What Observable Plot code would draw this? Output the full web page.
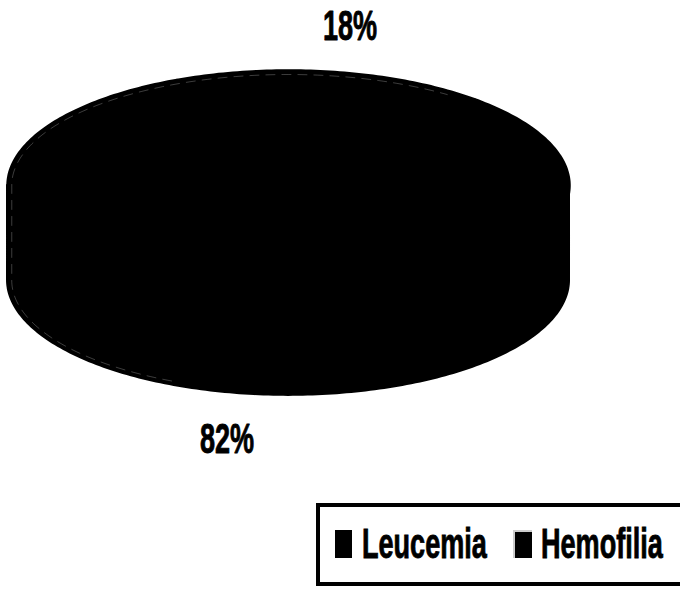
<!DOCTYPE html>
<html>
<head>
<meta charset="utf-8">
<script src="https://cdn.jsdelivr.net/npm/d3@7"></script>
<script src="https://cdn.jsdelivr.net/npm/@observablehq/plot@0.6"></script>
<style>
  html, body { margin: 0; padding: 0; background: #fff; }
  #wrap { position: relative; width: 680px; height: 590px; overflow: hidden; }
  .lbl { font-family: "Liberation Sans", Arial, sans-serif; font-weight: bold; -webkit-text-stroke: 0.7px #000; }
  #legend { position: absolute; left: 316px; top: 503px; width: 400px; height: 83px; border: 4px solid #000; box-sizing: border-box; }
  .sw { position: absolute; width: 17px; height: 28px; top: 23px; }
  .txt { position: absolute; top: 20px; font-size: 33px; color: #000; line-height: 33px; white-space: nowrap;
         transform: scale(0.82, 1.3); transform-origin: 0 50%; }
</style>
</head>
<body>
<div id="wrap">
  <div id="chart"></div>
  <div id="legend"></div>
</div>
<script>
// ---- data ----
const categories = ["Hemofilia", "Leucemia"];
const values = [18, 82];
const labels = ["18%", "82%"];
const colors = ["#000000", "#000000"];
const legendOrder = ["Leucemia", "Hemofilia"];

// ---- 3D pie geometry (unit: horizontal radius = 1) ----
const RY = 0.409, DEPTH = 0.338, START = -23.4, LABEL_F = 1.4;
const total = d3.sum(values);
let acc = START;
const slices = categories.map((c, i) => {
  const a0 = acc, a1 = acc + values[i] / total * 360;
  acc = a1;
  return {cat: c, a0, a1, mid: (a0 + a1) / 2, label: labels[i], color: colors[i]};
});
const rad = d => d * Math.PI / 180;

const topPts = [];
const sidePts = [];
for (const s of slices) {
  topPts.push({cat: s.cat, x: 0, y: 0});
  const n = Math.ceil(s.a1 - s.a0);
  for (let k = 0; k <= n; k++) {
    const a = s.a0 + (s.a1 - s.a0) * k / n;
    topPts.push({cat: s.cat, x: Math.sin(rad(a)), y: RY * Math.cos(rad(a))});
  }
  const lo = Math.max(s.a0, 90), hi = Math.min(s.a1, 270);
  if (hi > lo) {
    for (let a = lo; a <= hi + 1e-9; a += 1) {
      const yt = RY * Math.cos(rad(a));
      sidePts.push({cat: s.cat, x: Math.sin(rad(a)), y1: yt - DEPTH, y2: yt});
    }
  }
}
// faint highlight just inside the rim (scan look)
const rim = [];
for (let a = 205; a <= 395; a += 1) {
  const c = Math.cos(rad(a));
  const yt = RY * 0.965 * c;
  rim.push({x: 0.985 * Math.sin(rad(a)), y: c < 0 ? yt - DEPTH : yt});
}

const labelPts = slices.map(s => {
  const c = Math.cos(rad(s.mid));
  return {x: Math.sin(rad(s.mid)) * LABEL_F, y: RY * c * LABEL_F + (c < 0 ? -DEPTH : 0), text: s.label};
});

const colorMap = new Map(slices.map(s => [s.cat, s.color]));

const chart = Plot.plot({
  width: 680,
  height: 500,
  margin: 0,
  x: {domain: [-1.025, 1.395], range: [0, 680], axis: null},
  y: {domain: [-1.121, 0.658], range: [500, 0], axis: null},
  marks: [
    Plot.areaY(sidePts, {x: "x", y1: "y1", y2: "y2", z: "cat", fill: d => colorMap.get(d.cat), stroke: "#000", strokeWidth: 2}),
    Plot.line(topPts, {x: "x", y: "y", z: "cat", fill: d => colorMap.get(d.cat), stroke: "#000", strokeWidth: 2.5}),
    Plot.line(rim, {x: "x", y: "y", stroke: "#fff", strokeOpacity: 0.3, strokeWidth: 0.8, strokeDasharray: "9,7"}),
    Plot.text(labelPts, {x: "x", y: "y", text: "text", fontSize: 33, fontWeight: "bold", fill: "#000", stroke: "#000", strokeWidth: 0.7})
  ]
});
chart.style.fontFamily = '"Liberation Sans", Arial, sans-serif';
d3.select(chart).selectAll("text").each(function() {
  const t = this.getAttribute("transform") || "";
  this.setAttribute("transform", t + " scale(0.82,1.3)");
});
document.getElementById("chart").appendChild(chart);

// ---- legend ----
const leg = d3.select("#legend");
const swLeft = [15, 193], txtLeft = [42, 221];
legendOrder.forEach((name, i) => {
  const sw = leg.append("div").attr("class", "sw").style("left", swLeft[i] + "px").style("background", colorMap.get(name));
  if (name === "Hemofilia") sw.style("box-shadow", "inset 3px 3px 0 -1px #ccc").style("width", "19px");
  leg.append("span").attr("class", "txt lbl").style("left", txtLeft[i] + "px").text(name);
});
</script>
</body>
</html>
